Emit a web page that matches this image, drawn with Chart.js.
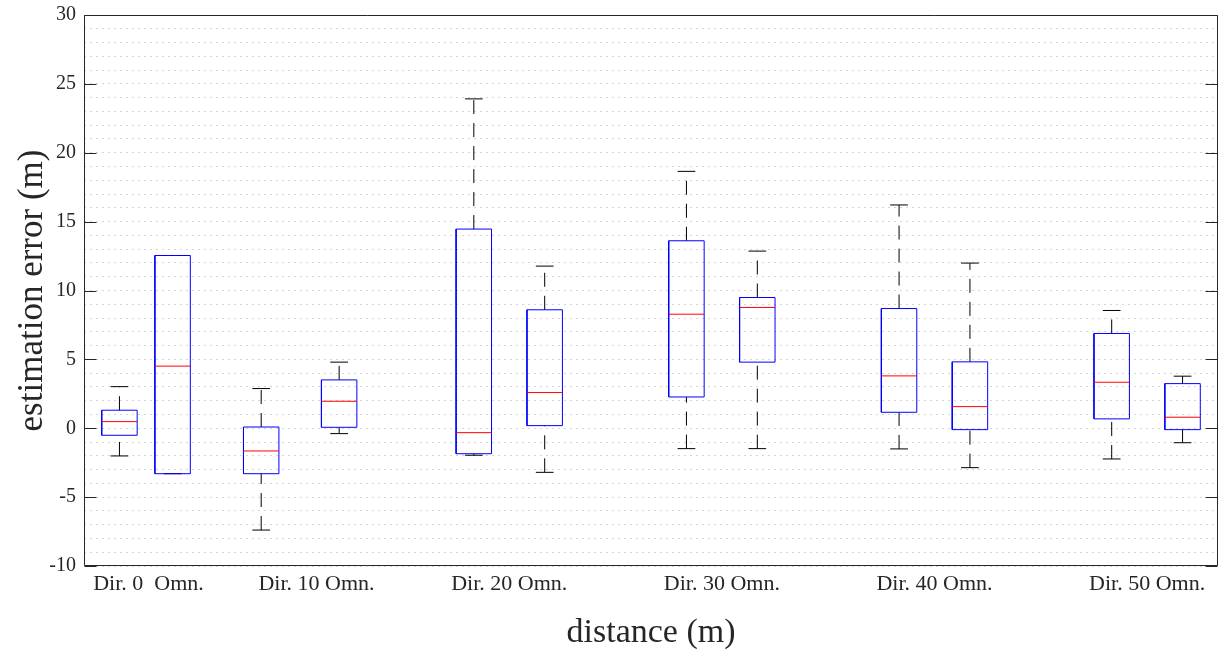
<!DOCTYPE html>
<html>
<head>
<meta charset="utf-8">
<script src="https://cdn.jsdelivr.net/npm/chart.js@4.4.1/dist/chart.umd.min.js"></script>
<style>
  html, body { margin: 0; padding: 0; background: #ffffff; }
  #wrap { width: 1220px; height: 650px; }
</style>
</head>
<body>
<div id="wrap"><canvas id="c" width="1220" height="650"></canvas></div>
<script>
// Group tick labels along the distance axis
const groupLabels = ['Dir. 0\u00a0\u00a0Omn.', 'Dir. 10 Omn.', 'Dir. 20 Omn.', 'Dir. 30 Omn.', 'Dir. 40 Omn.', 'Dir. 50 Omn.'];
const groupLabelPos = [0.91, 3.28, 6, 9, 12, 15];

// Box positions on the x axis
const dirPos = [0.5, 2.5, 5.5, 8.5, 11.5, 14.5];
const omnPos = [1.25, 3.6, 6.5, 9.5, 12.5, 15.5];

// Directional antenna statistics (m)
const dirLower  = [-2.01, -7.39, -1.96, -1.48, -1.50, -2.23];
const dirQ1     = [-0.51, -3.30, -1.85,  2.27,  1.16,  0.68];
const dirMedian = [ 0.48, -1.65, -0.32,  8.28,  3.80,  3.34];
const dirQ3     = [ 1.31,  0.09, 14.46, 13.61,  8.69,  6.88];
const dirUpper  = [ 3.02,  2.88, 23.91, 18.65, 16.21,  8.55];

// Omnidirectional antenna statistics (m)
const omnLower  = [-3.30, -0.39, -3.20, -1.48, -2.86, -1.05];
const omnQ1     = [-3.30,  0.07,  0.19,  4.80, -0.10, -0.10];
const omnMedian = [ 4.51,  1.96,  2.59,  8.77,  1.57,  0.80];
const omnQ3     = [12.54,  3.51,  8.60,  9.49,  4.82,  3.24];
const omnUpper  = [12.54,  4.80, 11.77, 12.86, 11.99,  3.78];

const Y_MIN = -10, Y_MAX = 30;
const BOX_HALF = 0.25;   // half box width in axis units
const CAP_HALF = 0.125;  // half whisker-cap width
const AXIS_COLOR = '#262626';

function line(points, color, extra) {
  return Object.assign({
    type: 'scatter',
    data: points,
    showLine: true,
    borderColor: color,
    borderWidth: 1,
    pointRadius: 0,
    pointHoverRadius: 0,
    fill: false,
    tension: 0,
    borderCapStyle: 'butt',
    borderJoinStyle: 'miter'
  }, extra || {});
}

function boxDatasets(pos, lo, q1, med, q3, hi) {
  const out = [];
  pos.forEach((p, i) => {
    // whiskers are drawn from the lower value to the higher one
    out.push(line([{x: p, y: q3[i]}, {x: p, y: hi[i]}], '#000000', {borderDash: [14, 9], order: 3}));
    out.push(line([{x: p, y: lo[i]}, {x: p, y: q1[i]}], '#000000', {borderDash: [14, 9], order: 3}));
    out.push(line([{x: p - CAP_HALF, y: hi[i]}, {x: p + CAP_HALF, y: hi[i]}], '#000000', {order: 2}));
    out.push(line([{x: p - CAP_HALF, y: lo[i]}, {x: p + CAP_HALF, y: lo[i]}], '#000000', {order: 2}));
    out.push(line([
      {x: p - BOX_HALF, y: q1[i]}, {x: p + BOX_HALF, y: q1[i]},
      {x: p + BOX_HALF, y: q3[i]}, {x: p - BOX_HALF, y: q3[i]},
      {x: p - BOX_HALF, y: q1[i]}
    ], '#0000ff', {order: 1}));
    out.push(line([{x: p - BOX_HALF, y: med[i]}, {x: p + BOX_HALF, y: med[i]}], '#ff0000', {order: 0}));
  });
  return out;
}

const datasets = [
  ...boxDatasets(dirPos, dirLower, dirQ1, dirMedian, dirQ3, dirUpper),
  ...boxDatasets(omnPos, omnLower, omnQ1, omnMedian, omnQ3, omnUpper)
];

// Axes frame plus inward major tick marks on both vertical sides
const framePlugin = {
  id: 'frame',
  afterDraw(chart) {
    const {ctx, chartArea: a, scales: {y}} = chart;
    const L = Math.round(a.left) + 0.5, R = Math.round(a.right) - 0.5;
    const T = Math.round(a.top) + 0.5, B = Math.round(a.bottom) - 0.5;
    ctx.save();
    ctx.strokeStyle = AXIS_COLOR;
    ctx.lineWidth = 1;
    ctx.beginPath();
    ctx.rect(L, T, R - L, B - T);
    ctx.stroke();
    ctx.beginPath();
    for (let v = Y_MIN; v <= Y_MAX; v += 5) {
      const py = Math.round(y.getPixelForValue(v)) + 0.5;
      ctx.moveTo(L, py); ctx.lineTo(L + 12, py);
      ctx.moveTo(R, py); ctx.lineTo(R - 12, py);
    }
    ctx.stroke();
    ctx.restore();
  }
};

Chart.defaults.font.family = '"Liberation Serif", "Times New Roman", serif';
Chart.defaults.color = AXIS_COLOR;

new Chart(document.getElementById('c'), {
  type: 'scatter',
  data: { datasets },
  options: {
    responsive: false,
    animation: false,
    events: [],
    layout: { padding: { left: 0, right: 2, top: 15, bottom: 0 } },
    plugins: { legend: { display: false }, tooltip: { enabled: false } },
    scales: {
      x: {
        type: 'linear',
        min: 0,
        max: 16,
        afterBuildTicks: (scale) => { scale.ticks = groupLabelPos.map(v => ({ value: v })); },
        afterFit: (scale) => { scale.height = 84; scale.paddingLeft = 0; scale.paddingRight = 0; },
        grid: { display: false, drawTicks: false },
        border: { display: false },
        ticks: {
          autoSkip: false,
          maxRotation: 0,
          minRotation: 0,
          padding: 5,
          font: { size: 22 },
          callback: (value, index) => groupLabels[index]
        },
        title: {
          display: true,
          text: 'distance (m)',
          font: { size: 34, lineHeight: 1 },
          padding: { top: 0, bottom: 0 }
        }
      },
      y: {
        type: 'linear',
        min: Y_MIN,
        max: Y_MAX,
        afterFit: (scale) => { scale.width = 84; scale.paddingTop = 0; scale.paddingBottom = 0; },
        grid: { color: 'rgba(0,0,0,0.17)', lineWidth: 1, drawTicks: false },
        border: { display: false, dash: [2, 4] },
        ticks: {
          stepSize: 1,
          autoSkip: false,
          padding: 8,
          font: { size: 20 },
          callback: (value) => (value % 5 === 0 ? String(value) : '')
        },
        title: {
          display: true,
          text: 'estimation error (m)',
          font: { size: 35, lineHeight: 1 },
          padding: { top: 15, bottom: 0 }
        }
      }
    }
  },
  plugins: [framePlugin]
});
</script>
</body>
</html>
